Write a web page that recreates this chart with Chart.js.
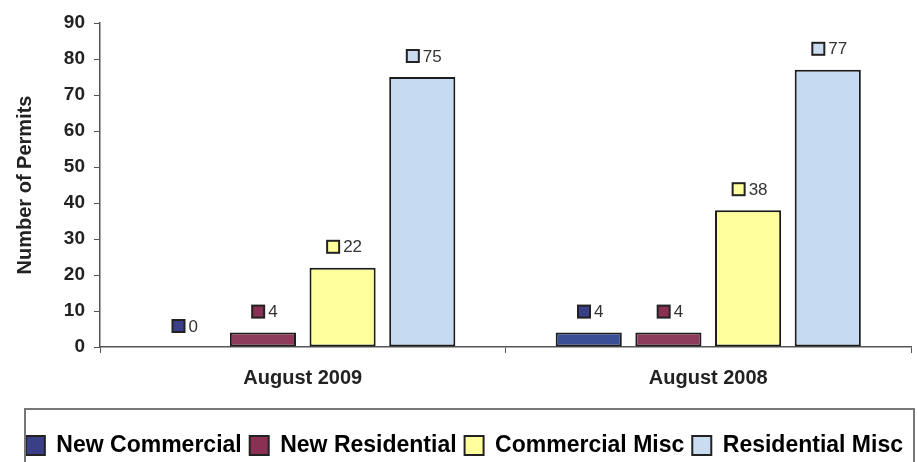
<!DOCTYPE html>
<html>
<head>
<meta charset="utf-8">
<script src="https://cdn.jsdelivr.net/npm/chart.js@4/dist/chart.umd.min.js"></script>
<style>
  html, body { margin: 0; padding: 0; background: #fff; }
  #wrap { width: 917px; height: 462px; }
</style>
</head>
<body>
<div id="wrap"><canvas id="permitsChart"></canvas></div>
<script>
// Permits by type
const months = ['August 2009', 'August 2008'];
const seriesNames = ['New Commercial', 'New Residential', 'Commercial Misc', 'Residential Misc'];
const newCommercial = [0, 4];
const newResidential = [4, 4];
const commercialMisc = [22, 38];
const residentialMisc = [75, 77];
const yTicks = [0, 10, 20, 30, 40, 50, 60, 70, 80, 90];

const fills = ['#3b4f96', '#8c3b5b', '#ffff9c', '#c6daf1'];
const legendFills = ['#3a3f88', '#8a3052', '#ffff9c', '#c9dcf0'];
const font = 'Liberation Sans, Arial, sans-serif';

// small coloured square + value above each bar
const barLabels = {
    id: 'barLabels',
    afterDatasetsDraw(chart) {
        const ctx = chart.ctx;
        ctx.save();
        ctx.font = '17px ' + font;
        ctx.textBaseline = 'middle';
        chart.data.datasets.forEach((ds, i) => {
            const meta = chart.getDatasetMeta(i);
            meta.data.forEach((bar, j) => {
                const txt = String(ds.data[j]);
                const tw = ctx.measureText(txt).width;
                const w = 12 + 4 + tw;
                const x0 = bar.x - w / 2 + 2;
                const yc = bar.y - 21;
                ctx.fillStyle = legendFills[i];
                ctx.fillRect(x0, yc - 6, 12, 12);
                ctx.strokeStyle = '#222';
                ctx.lineWidth = 2;
                ctx.strokeRect(x0, yc - 6, 12, 12);
                ctx.fillStyle = '#333';
                ctx.fillText(txt, x0 + 16, yc + 1);
            });
        });
        ctx.restore();
    }
};

// frame round the legend
const legendFrame = {
    id: 'legendFrame',
    afterDraw(chart) {
        const ctx = chart.ctx;
        ctx.save();
        ctx.strokeStyle = '#777';
        ctx.lineWidth = 2;
        ctx.strokeRect(25, 409, 889, 70);
        ctx.restore();
    }
};

const ctx1 = document.getElementById('permitsChart').getContext('2d');
const permitsChart = new Chart(ctx1, {
    type: 'bar',
    data: {
        labels: months,
        datasets: [newCommercial, newResidential, commercialMisc, residentialMisc].map((d, i) => ({
            label: seriesNames[i],
            data: d,
            backgroundColor: fills[i],
            borderColor: '#1c1c1c',
            borderWidth: 2,
            borderSkipped: false,
            categoryPercentage: 0.786,
            barPercentage: 0.83
        }))
    },
    options: {
        responsive: true,
        maintainAspectRatio: false,
        animation: false,
        layout: { padding: { top: 23, right: 6, left: 0, bottom: -5 } },
        plugins: {
            tooltip: { enabled: false },
            legend: {
                position: 'bottom',
                align: 'end',
                labels: {
                    boxWidth: 19,
                    boxHeight: 19,
                    padding: 8,
                    color: '#222',
                    font: { family: font, size: 23, weight: 'bold' },
                    generateLabels(chart) {
                        return seriesNames.map((n, i) => ({
                            text: n,
                            fillStyle: legendFills[i],
                            strokeStyle: '#222',
                            lineWidth: 2,
                            datasetIndex: i
                        }));
                    }
                }
            }
        },
        scales: {
            x: {
                grid: { drawOnChartArea: false, tickLength: 6, color: '#555' },
                border: { color: '#555', width: 1.5 },
                ticks: { padding: 13, color: '#222', font: { family: font, size: 20, weight: 'bold' } },
                afterFit(scale) { scale.height = 79; }
            },
            y: {
                min: 0,
                max: 90,
                afterBuildTicks(scale) { scale.ticks = yTicks.map(v => ({ value: v })); },
                grid: { drawOnChartArea: false, tickLength: 6, color: '#555' },
                border: { color: '#555', width: 1.5 },
                ticks: { padding: 9, color: '#222', font: { family: font, size: 19, weight: 'bold' } },
                title: {
                    display: true,
                    text: 'Number of Permits',
                    color: '#222',
                    padding: { top: 13, bottom: 0 },
                    font: { family: font, size: 20, weight: 'bold' }
                },
                afterFit(scale) { scale.width = 100; }
            }
        }
    },
    plugins: [barLabels, legendFrame]
});
</script>
</body>
</html>
